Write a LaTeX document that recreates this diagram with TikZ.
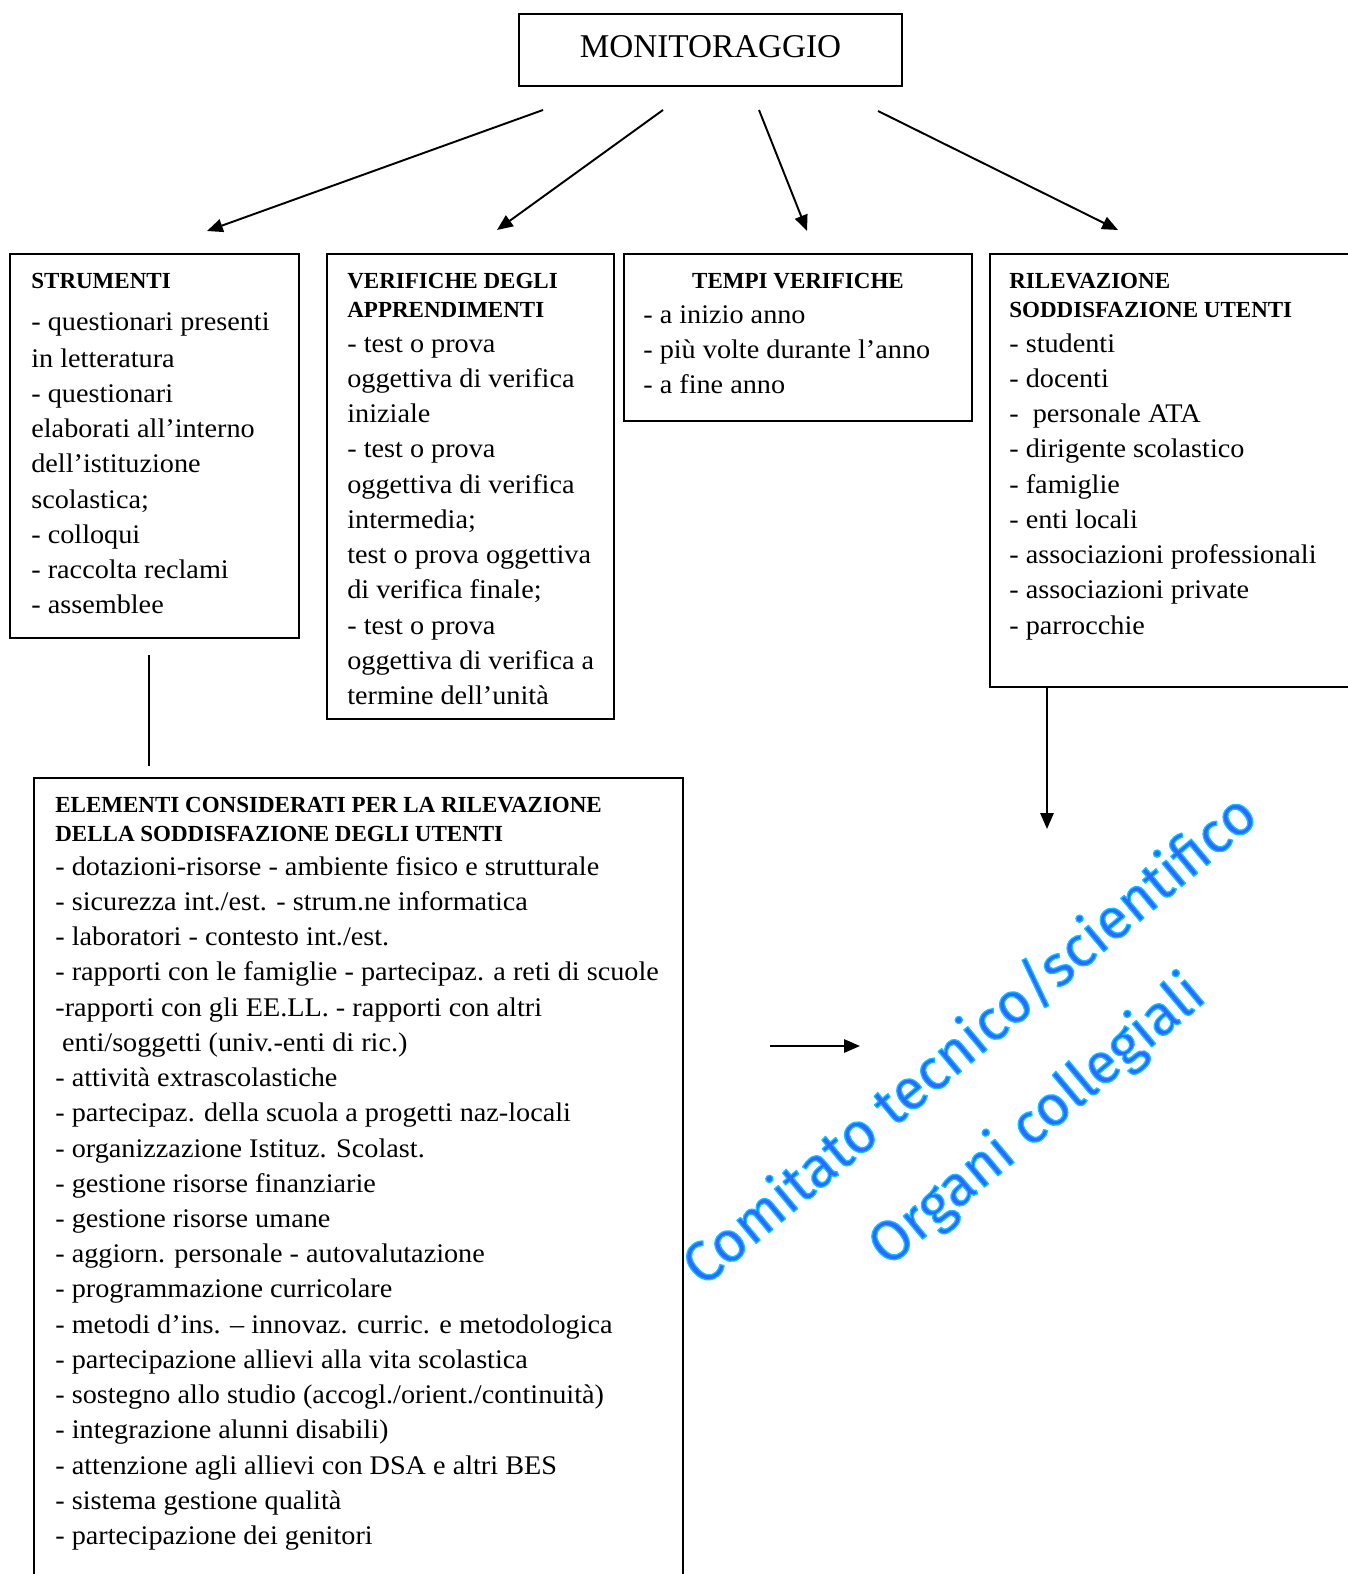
\documentclass[tikz,border=0pt]{standalone}
\usepackage{fontspec}
\setmainfont{Liberation Serif}
\newfontfamily\bodyfamily[FakeStretch=1.05]{Liberation Serif}
\newfontfamily\glowfamily{Fira Sans}
\usetikzlibrary{arrows.meta,%
                shapes,fit}

\definecolor{glowcyan}{RGB}{0,204,255}
\definecolor{glowblue}{RGB}{51,102,255}

\newcommand{\topstrut}{\rule{0pt}{12pt}}
\newcommand{\bodyfont}{\bodyfamily\fontsize{15.3}{20.05}\selectfont}
\newcommand{\headfont}{\fontsize{13.1}{16.5}\selectfont\bfseries}
\newcommand{\glowfont}{\glowfamily\fontsize{32.5}{59}\selectfont}
% cyan outline round the blue letters
\newcommand{\outlineon}{\special{pdf:code 0 0.8 1 RG 0.7 w 1 j 2 Tr}}
\newcommand{\outlineoff}{\special{pdf:code 0 Tr}}

\tikzset{
  box/.style={draw, line width=1.1pt, rectangle, inner sep=0pt},
  head/.style={anchor=north west, inner sep=0pt, align=left, font=\headfont},
  body/.style={anchor=north west, inner sep=0pt, align=left, font=\bodyfont},
  arr/.style={line width=1.1pt, -{Triangle[length=9pt,width=7.5pt]}},
  glow/.style={rotate=40, align=center, inner sep=0pt, font=\glowfont}
}

\begin{document}
\begin{tikzpicture}[x=0.02cm,y=-0.02cm]
\useasboundingbox (0,0) rectangle (1347,1574);

% title
\node[box, minimum width=218pt, minimum height=40.8pt, text depth=4.5pt,
      font=\fontsize{18.9}{22}\selectfont] (monitoraggio) at (710.5,50) {MONITORAGGIO};

% boxes
\node[box, fit={(10,254) (299,638)}] (strumenti) {};
\node[box, fit={(327,254) (614,719)}] (verifiche) {};
\node[box, fit={(624,254) (972,421)}] (tempi) {};
\node[box, fit={(990,254) (1352,687)}] (rilevazione) {};
\node[box, fit={(34,778) (683,1580)}] (elementi) {};

% texts
\node[head] (strhead) at (31,266.8) {\topstrut STRUMENTI};
\node[body] (strbody) at (31,308.8) {\topstrut- questionari presenti\\[1pt]
  in letteratura\\- questionari\\elaborati all’interno\\dell’istituzione\\
  scolastica;\\- colloqui\\- raccolta reclami\\- assemblee};

\node[head] (verhead) at (347,266.8) {\topstrut VERIFICHE DEGLI\\APPRENDIMENTI};
\node[body] (verbody) at (347,330.8) {\topstrut- test o prova\\
  oggettiva di verifica\\iniziale\\- test o prova\\oggettiva di verifica\\
  intermedia;\\test o prova oggettiva\\di verifica finale;\\- test o prova\\
  oggettiva di verifica a\\termine dell’unità};

\node[head, anchor=north] (temhead) at (798,266.8) {\topstrut TEMPI VERIFICHE};
\node[body] (tembody) at (643,301.8) {\topstrut- a inizio anno\\
  - più volte durante l’anno\\- a fine anno};

\node[head] (rilhead) at (1009,266.8) {\topstrut RILEVAZIONE\\SODDISFAZIONE UTENTI};
\node[body] (rilbody) at (1009,330.8) {\topstrut- studenti\\- docenti\\
  -\ \ personale ATA\\- dirigente scolastico\\- famiglie\\- enti locali\\
  - associazioni professionali\\- associazioni private\\- parrocchie};

\node[head] (elehead) at (55,790.8) {\topstrut ELEMENTI CONSIDERATI PER LA RILEVAZIONE\\
  DELLA SODDISFAZIONE DEGLI UTENTI};
\node[body] (elebody) at (55,853.8) {\topstrut- dotazioni-risorse - ambiente fisico e strutturale\\
  - sicurezza int./est. - strum.ne informatica\\
  - laboratori - contesto int./est.\\
  - rapporti con le famiglie - partecipaz. a reti di scuole\\
  -rapporti con gli EE.LL. - rapporti con altri\\
  \hspace{0.25em}enti/soggetti (univ.-enti di ric.)\\
  - attività extrascolastiche\\
  - partecipaz. della scuola a progetti naz-locali\\
  - organizzazione Istituz. Scolast.\\
  - gestione risorse finanziarie\\
  - gestione risorse umane\\
  - aggiorn. personale - autovalutazione\\
  - programmazione curricolare\\
  - metodi d’ins. – innovaz. curric. e metodologica\\
  - partecipazione allievi alla vita scolastica\\
  - sostegno allo studio (accogl./orient./continuità)\\
  - integrazione alunni disabili)\\
  - attenzione agli allievi con DSA e altri BES\\
  - sistema gestione qualità\\
  - partecipazione dei genitori};

% connectors
\coordinate (m1) at (543,110);  \coordinate (s1) at (207,231);
\coordinate (m2) at (663,110);  \coordinate (s2) at (497,230);
\coordinate (m3) at (759,110);  \coordinate (s3) at (807,231);
\coordinate (m4) at (878,111);  \coordinate (s4) at (1118,230);
\draw[arr] (m1) -- (s1);
\draw[arr] (m2) -- (s2);
\draw[arr] (m3) -- (s3);
\draw[arr] (m4) -- (s4);

\coordinate (d1) at (149,655);  \coordinate (d2) at (149,766);
\draw[line width=1.1pt] (d1) -- (d2);

\coordinate (r1) at (1047,687); \coordinate (r2) at (1047,829);
\draw[arr] (r1) -- (r2);

\coordinate (h1) at (770,1046); \coordinate (h2) at (860,1046);
\draw[arr] (h1) -- (h2);

% rotated blue text
\node[glow, text=glowblue] (comitato) at (1004,1081)
  {\outlineon Comitato tecnico/scientifico\\Organi collegiali\outlineoff};
\end{tikzpicture}
\end{document}
